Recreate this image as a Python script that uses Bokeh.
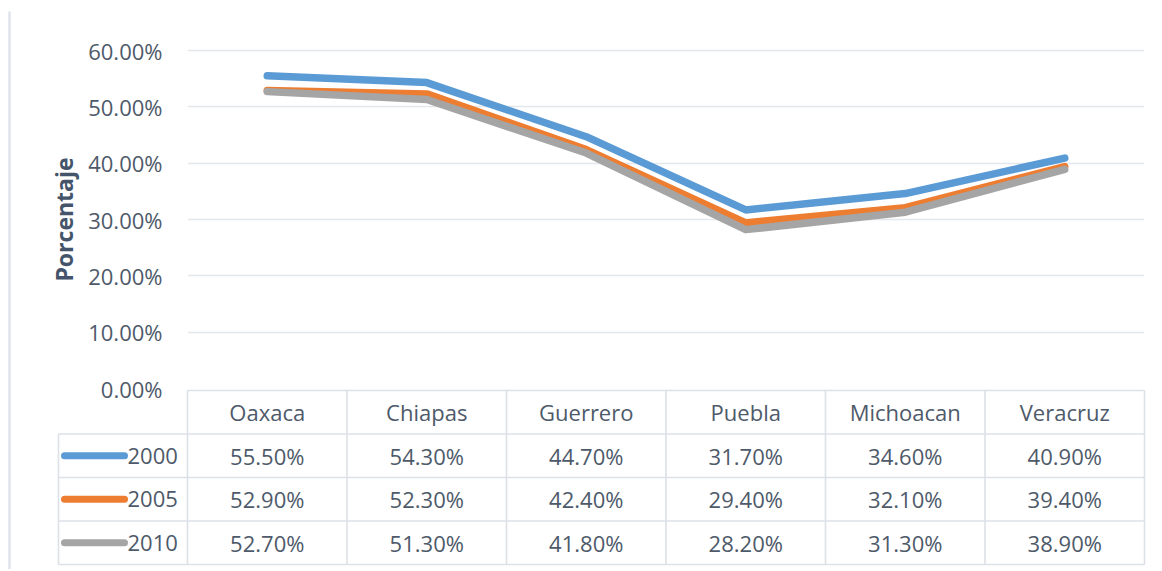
import math
from bokeh.plotting import figure
from bokeh.models import Range1d, LinearAxis, FixedTicker, PrintfTickFormatter, Grid
from bokeh.core.properties import value
from bokeh.embed import file_html
from bokeh.resources import INLINE

# ---------------- data ----------------
states = ["Oaxaca", "Chiapas", "Guerrero", "Puebla", "Michoacan", "Veracruz"]
years = ["2000", "2005", "2010"]
v2000 = [55.5, 54.3, 44.7, 31.7, 34.6, 40.9]
v2005 = [52.9, 52.3, 42.4, 29.4, 32.1, 39.4]
v2010 = [52.7, 51.3, 41.8, 28.2, 31.3, 38.9]
series = [v2000, v2005, v2010]
colors = ["#5B9BD5", "#ED7D31", "#A5A5A5"]
y_ticks = [0, 10, 20, 30, 40, 50, 60]
y_title = "Porcentaje"

# ---------------- layout constants ----------------
FONT = "Open Sans"
TXT = "#4e5a6a"
BORDER = "#dce1e8"
GRIDC = "#e4e8ed"

W, H = 1150, 569
ML, MR, MT, MB = 187, 6, 46, 3
page_top = MT
page_bot = H - MB
y60_px, y0_px = 50, 388
ppu = (y0_px - y60_px) / 60.0
y_top = 60 + (y60_px - page_top) / ppu
y_bot = -(page_bot - y0_px) / ppu

row_h = 43.5
tab_top_px = 390
n_rows = len(years) + 1
tab_bot_px = tab_top_px + n_rows * row_h
t_top = n_rows + (tab_top_px - page_top) / row_h
t_bot = -(page_bot - tab_bot_px) / row_h

col_w = (W - ML - MR) / len(states)


def px2x(px):
    return (px - ML) / col_w


def py2t(py):
    return n_rows + (tab_top_px - py) / row_h


leg_left = px2x(58)

p = figure(width=W, height=H, output_backend="svg", toolbar_location=None,
           x_range=Range1d(0, len(states)), y_range=Range1d(y_bot, y_top),
           x_axis_type=None, y_axis_type=None,
           min_border_left=ML, min_border_right=MR, min_border_top=MT, min_border_bottom=MB)
p.extra_y_ranges = {"table": Range1d(t_bot, t_top)}
p.outline_line_color = None
p.background_fill_color = "white"
p.border_fill_color = "white"

# y axis
yaxis = LinearAxis(ticker=FixedTicker(ticks=y_ticks),
                   formatter=PrintfTickFormatter(format="%.2f%%"))
yaxis.axis_line_color = None
yaxis.major_tick_line_color = None
yaxis.minor_tick_line_color = None
yaxis.major_label_standoff = 19
yaxis.major_label_text_font = FONT
yaxis.major_label_text_font_size = "22px"
yaxis.major_label_text_color = TXT
p.add_layout(yaxis, "left")

grid = Grid(dimension=1, ticker=FixedTicker(ticks=y_ticks[1:]),
            grid_line_color=GRIDC, grid_line_width=1.6)
p.add_layout(grid)

# axis title, centred on the value range
p.text([px2x(63)], [(y_ticks[0] + y_ticks[-1]) / 2], text=[y_title],
       text_font=value(FONT), text_font_size="23px", text_font_style="bold",
       text_color="#44546A", text_align="center", text_baseline="middle",
       angle=math.pi / 2, level="overlay")

# data lines
xc = [i + 0.5 for i in range(len(states))]
for vals, c in zip(series, colors):
    p.line(xc, vals, line_color=c, line_width=7.5, line_cap="round", line_join="round")

# ---------------- data table ----------------
x0s, y0s, x1s, y1s = [], [], [], []
x0s.append(0); x1s.append(len(states)); y0s.append(n_rows); y1s.append(n_rows)
for r in range(n_rows):
    x0s.append(leg_left); x1s.append(len(states)); y0s.append(r); y1s.append(r)
for c in range(len(states) + 1):
    x0s.append(c); x1s.append(c); y0s.append(0); y1s.append(n_rows)
x0s.append(leg_left); x1s.append(leg_left); y0s.append(0); y1s.append(n_rows - 1)
p.segment(x0s, y0s, x1s, y1s, line_color=BORDER, line_width=1.6,
          y_range_name="table", level="overlay")

p.text(xc, [n_rows - 0.5] * len(states), text=states, text_font=value(FONT),
       text_font_size="22px", text_color=TXT, text_align="center",
       text_baseline="middle", y_range_name="table", level="overlay")

for k, vals in enumerate(series):
    yr = n_rows - 1.5 - k
    p.text(xc, [yr] * len(vals), text=["%.2f%%" % v for v in vals],
           text_font=value(FONT), text_font_size="22px", text_color=TXT,
           text_align="center", text_baseline="middle",
           y_range_name="table", level="overlay")

ky = [n_rows - 1.5 - k for k in range(len(years))]
p.segment([px2x(64)] * len(years), ky, [px2x(124)] * len(years), ky,
          line_color=colors, line_width=7, line_cap="round",
          y_range_name="table", level="overlay")
p.text([px2x(127)] * len(years), ky, text=years, text_font=value(FONT),
       text_font_size="22px", text_color=TXT, text_align="left",
       text_baseline="middle", y_range_name="table", level="overlay")

# chart-area left border
p.segment([px2x(9)], [py2t(11)], [px2x(9)], [py2t(H + 5)],
          line_color="#dfe3ea", line_width=2.5, y_range_name="table", level="overlay")

open("out.html", "w").write(file_html(p, INLINE))
